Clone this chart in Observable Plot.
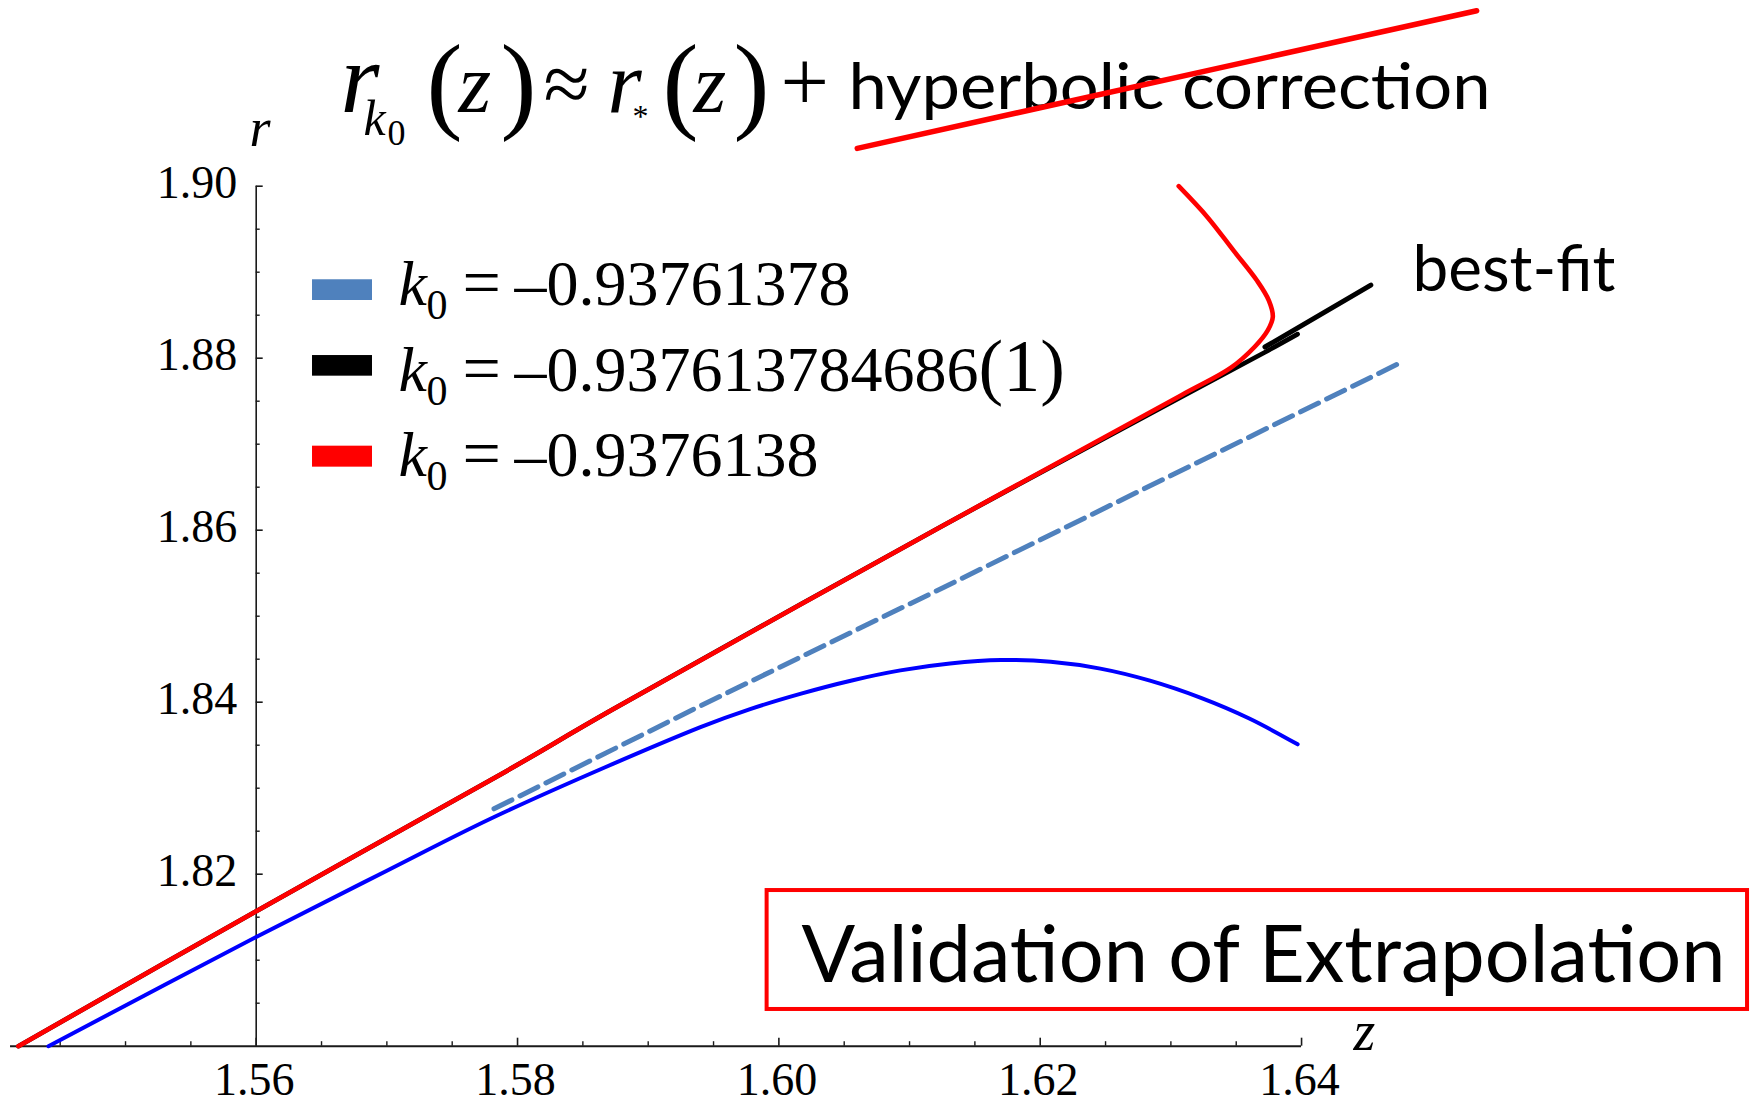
<!DOCTYPE html>
<html>
<head>
<meta charset="utf-8">
<style>
  html, body { margin: 0; padding: 0; background: #ffffff; overflow: hidden; }
  #chart svg { display: block; }
</style>
<script src="https://cdn.jsdelivr.net/npm/d3@7"></script>
<script src="https://cdn.jsdelivr.net/npm/@observablehq/plot@0.6"></script>
</head>
<body>
<div id="chart"></div>
<script>
// ---------- data ----------
// axis ticks
const zMajor = [1.56, 1.58, 1.60, 1.62, 1.64];
const zLabels = ["1.56", "1.58", "1.60", "1.62", "1.64"];
const zMinor = [1.545, 1.55, 1.555, 1.565, 1.57, 1.575, 1.585, 1.59, 1.595, 1.605, 1.61, 1.615, 1.625, 1.63, 1.635];
const rMajor = [1.82, 1.84, 1.86, 1.88, 1.90];
const rLabels = ["1.82", "1.84", "1.86", "1.88", "1.90"];
const rMinor = [1.805, 1.81, 1.815, 1.825, 1.83, 1.835, 1.845, 1.85, 1.855, 1.865, 1.87, 1.875, 1.885, 1.89, 1.895];

// series  (legend order: blue, black, red)
const seriesValues = ["–0.93761378", "–0.937613784686", "–0.9376138"];
const seriesSuffix = ["", "(1)", ""];
const swatchColors = ["#4f81bd", "#000000", "#ff0000"];

// k0 = -0.93761378  (blue solid)
const zBlue = [1.5441, 1.5600, 1.5700, 1.5787, 1.5940, 1.5978, 1.6017, 1.6055, 1.6093, 1.6131, 1.6170, 1.6208, 1.6246, 1.6284, 1.6323, 1.6360, 1.6397];
const rBlue = [1.8000, 1.8127, 1.8204, 1.8270, 1.8371, 1.8392, 1.8410, 1.8425, 1.8437, 1.8445, 1.8449, 1.8447, 1.8439, 1.8425, 1.8405, 1.8381, 1.8351];

// k0 = -0.937613784686(1)  (black, best fit)
const zBlack = [1.5418, 1.5600, 1.5787, 1.5871, 1.6124, 1.6308, 1.6372, 1.6397];
const rBlack = [1.8000, 1.8157, 1.8316, 1.8390, 1.8604, 1.8755, 1.8807, 1.8828];

// k0 = -0.9376138  (red)
const zRed = [1.5418, 1.5600, 1.5787, 1.5871, 1.6124, 1.6308, 1.6346, 1.6364, 1.6374, 1.6378, 1.6375, 1.6366, 1.6348, 1.6328, 1.6306];
const rRed = [1.8000, 1.8157, 1.8316, 1.8390, 1.8604, 1.8757, 1.8789, 1.8813, 1.8832, 1.8848, 1.8867, 1.8890, 1.8925, 1.8964, 1.9000];

// r_*(z) extrapolation (steel-blue dashed)
const zStar = [1.5782, 1.5935, 1.6124, 1.6476];
const rStar = [1.8276, 1.8392, 1.8532, 1.8795];

// annotation strokes (in data units)
const zBestFit = [1.6372, 1.6453];
const rBestFit = [1.8813, 1.8885];
const zStrike = [1.6060, 1.6534];
const rStrike = [1.9044, 1.9204];

// ---------- build ----------
const rows = (zs, rs) => zs.map((z, i) => ({z, r: rs[i]}));
const blue = rows(zBlue, rBlue);
const black = rows(zBlack, rBlack);
const red = rows(zRed, rRed);
const star = rows(zStar, rStar);
const bestFit = rows(zBestFit, rBestFit);
const strike = rows(zStrike, rStrike);

const serif = "'Liberation Serif', 'Times New Roman', serif";
const sans = "Lato, 'Open Sans', sans-serif";
const axisColor = "#1a1a1a";

// legend layout (r positions of swatch rows and text baselines)
const swTop = [1.88912, 1.88031, 1.86977];
const swBottom = [1.88671, 1.87791, 1.86733];
const legBase = [1.88613, 1.87624, 1.86636];

const FORMULA = "r_k0(z) ≈ r_*(z) +";

const svg = Plot.plot({
  width: 1756,
  height: 1103,
  margin: 0,
  style: {background: "#ffffff", overflow: "visible"},
  x: {domain: [1.540432, 1.674816], axis: null},
  y: {domain: [1.793337, 1.921593], axis: null},
  marks: [
    // axes lines
    Plot.ruleY([1.80], {x1: 1.5412, x2: 1.64, stroke: axisColor, strokeWidth: 2}),
    Plot.ruleX([1.56], {y1: 1.80, y2: 1.90, stroke: axisColor, strokeWidth: 1.6}),
    // x ticks (pointing up)
    Plot.ruleX(zMajor, {y1: 1.80, y2: 1.80, insetTop: 0, insetBottom: 8, stroke: axisColor, strokeWidth: 1.6}),
    Plot.ruleX(zMinor, {y1: 1.80, y2: 1.80, insetTop: 0, insetBottom: 4.5, stroke: axisColor, strokeWidth: 1.4}),
    // y ticks (pointing right)
    Plot.ruleY(rMajor, {x1: 1.56, x2: 1.56, insetLeft: 0, insetRight: -7, stroke: axisColor, strokeWidth: 1.6}),
    Plot.ruleY(rMinor, {x1: 1.56, x2: 1.56, insetLeft: 0, insetRight: -4, stroke: axisColor, strokeWidth: 1.4}),
    // tick labels
    Plot.text(zMajor, {x: d => d, y: 1.80, text: (d, i) => zLabels[i], dx: -2, dy: 49, lineAnchor: "bottom",
      fontFamily: serif, fontSize: 46, fill: "#000"}),
    Plot.text(rMajor, {x: 1.56, y: d => d, text: (d, i) => rLabels[i], textAnchor: "end", dx: -19, dy: -3,
      lineAnchor: "middle", fontFamily: serif, fontSize: 46, fill: "#000"}),
    // axis labels
    Plot.text(["r"], {x: 1.55949, y: 1.90473, textAnchor: "start", lineAnchor: "bottom",
      fontFamily: serif, fontStyle: "italic", fontSize: 54, fill: "#000"}),
    Plot.text(["z"], {x: 1.64398, y: 1.7995, textAnchor: "start", lineAnchor: "bottom",
      fontFamily: serif, fontStyle: "italic", fontSize: 56, fill: "#000"}),

    // curves
    Plot.line(blue, {x: "z", y: "r", stroke: "#0000ff", strokeWidth: 4, curve: "catmull-rom"}),
    Plot.line(star, {x: "z", y: "r", stroke: "#4f81bd", strokeWidth: 5, strokeDasharray: "20,9"}),
    Plot.line(black, {x: "z", y: "r", stroke: "#000000", strokeWidth: 4.6, curve: "catmull-rom"}),
    Plot.line(red, {x: "z", y: "r", stroke: "#ff0000", strokeWidth: 4.6, curve: "catmull-rom"}),

    // annotations
    Plot.line(bestFit, {x: "z", y: "r", stroke: "#000000", strokeWidth: 5}),
    Plot.text(["best-fit"], {x: 1.64849, y: 1.88787, textAnchor: "start", lineAnchor: "bottom",
      fontFamily: sans, fontSize: 64, fill: "#000"}),
    Plot.rect([0], {x1: 1.5991, x2: 1.67413, y1: 1.80427, y2: 1.81810, fill: "#ffffff", stroke: "#ff0000", strokeWidth: 4}),
    Plot.text(["Validation of Extrapolation"], {x: 1.60173, y: 1.80744, textAnchor: "start", lineAnchor: "bottom",
      fontFamily: sans, fontSize: 79, fill: "#000"}),

    // title formula
    Plot.text([FORMULA], {x: 1.56645, y: 1.90857, textAnchor: "start", lineAnchor: "bottom",
      fontFamily: serif, fontSize: 72, fill: "#000"}),
    Plot.text(["hyperbolic correction"], {x: 1.60533, y: 1.90898, textAnchor: "start", lineAnchor: "bottom",
      fontFamily: sans, fontSize: 63, fill: "#000"}),
    Plot.line(strike, {x: "z", y: "r", stroke: "#ff0000", strokeWidth: 5.5}),

    // legend
    Plot.rect(swatchColors, {x1: 1.56431, x2: 1.56890, y1: (d, i) => swTop[i], y2: (d, i) => swBottom[i], fill: d => d}),
    Plot.text(seriesValues, {x: 1.57089, y: (d, i) => legBase[i], text: d => "k0 = " + d, textAnchor: "start",
      lineAnchor: "bottom", fontFamily: serif, fontSize: 64, fill: "#000"})
  ]
});

// ---------- rich text formatting (sub/superscripts) ----------
function richen(textEl, parts) {
  const t = d3.select(textEl);
  t.text(null).attr("y", null);
  for (const p of parts) {
    const ts = t.append("tspan").text(p.t);
    if (p.x != null) ts.attr("x", p.x);
    if (p.y != null) ts.attr("y", p.y);
    if (p.i) ts.attr("font-style", "italic");
    if (p.s) ts.attr("font-size", p.s);
  }
}

const root = d3.select(svg);
const byText = (s) => root.selectAll("text").filter(function () { return this.textContent === s; });

byText(FORMULA).each(function () {
  richen(this, [
    {t: "r", x: 0, y: 0, i: 1, s: 100},
    {t: "k", x: 23, y: 23, i: 1, s: 50},
    {t: "0", x: 47, y: 33, s: 36},
    {t: "(", x: 86, y: 7, s: 108},
    {t: "z", x: 118, y: 0, i: 1, s: 84},
    {t: ")", x: 160, y: 7, s: 108},
    {t: "≈", x: 203, y: 0, s: 84},
    {t: "r", x: 267, y: 0, i: 1, s: 88},
    {t: "*", x: 292, y: 15, s: 32},
    {t: "(", x: 322, y: 7, s: 108},
    {t: "z", x: 353, y: 0, i: 1, s: 84},
    {t: ")", x: 393, y: 7, s: 108},
    {t: "+", x: 440, y: -1, s: 86}
  ]);
});

seriesValues.forEach((v, i) => {
  byText("k0 = " + v).each(function () {
    const parts = [
      {t: "k", x: 0, y: 0, i: 1, s: 64},
      {t: "0", x: 28, y: 14, s: 42},
      {t: "=", x: 64, y: 0, s: 68},
      {t: v, x: 116, y: 0, s: 64}
    ];
    if (seriesSuffix[i]) parts.push({t: seriesSuffix[i], s: 74});
    richen(this, parts);
  });
});

byText("best-fit").attr("textLength", 203).attr("lengthAdjust", "spacingAndGlyphs");
byText("Validation of Extrapolation").attr("textLength", 924).attr("lengthAdjust", "spacingAndGlyphs");
byText("hyperbolic correction").attr("textLength", 642).attr("lengthAdjust", "spacingAndGlyphs");

document.getElementById("chart").append(svg);
</script>
</body>
</html>
